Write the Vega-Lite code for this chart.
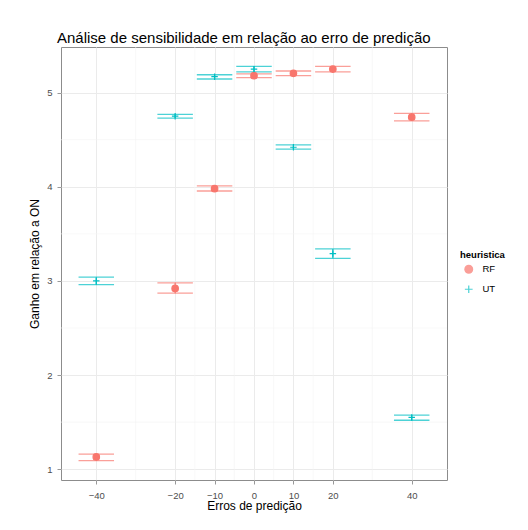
{
  "$schema": "https://vega.github.io/schema/vega-lite/v6.json",
  "autosize": "none",
  "width": 386,
  "height": 433,
  "padding": {"left": 61, "top": 47, "right": 81, "bottom": 50},
  "background": "white",
  "title": {
    "text": "Análise de sensibilidade em relação ao erro de predição",
    "anchor": "start",
    "frame": "group",
    "dx": -4,
    "offset": 1,
    "font": "Liberation Sans",
    "fontSize": 15,
    "fontWeight": "normal",
    "color": "#000000"
  },
  "datasets": {
    "dados": [
      {"erro": -40, "heuristica": "RF", "ganho": 1.13, "lo": 1.09, "hi": 1.16},
      {"erro": -20, "heuristica": "RF", "ganho": 2.92, "lo": 2.87, "hi": 2.98},
      {"erro": -10, "heuristica": "RF", "ganho": 3.98, "lo": 3.955, "hi": 4.01},
      {"erro": 0, "heuristica": "RF", "ganho": 5.18, "lo": 5.16, "hi": 5.2},
      {"erro": 10, "heuristica": "RF", "ganho": 5.205, "lo": 5.18, "hi": 5.23},
      {"erro": 20, "heuristica": "RF", "ganho": 5.25, "lo": 5.22, "hi": 5.28},
      {"erro": 40, "heuristica": "RF", "ganho": 4.74, "lo": 4.7, "hi": 4.78},
      {"erro": -40, "heuristica": "UT", "ganho": 3.0, "lo": 2.96, "hi": 3.04},
      {"erro": -20, "heuristica": "UT", "ganho": 4.75, "lo": 4.73, "hi": 4.77},
      {"erro": -10, "heuristica": "UT", "ganho": 5.17, "lo": 5.145, "hi": 5.19},
      {"erro": 0, "heuristica": "UT", "ganho": 5.25, "lo": 5.22, "hi": 5.28},
      {"erro": 10, "heuristica": "UT", "ganho": 4.42, "lo": 4.4, "hi": 4.445},
      {"erro": 20, "heuristica": "UT", "ganho": 3.29, "lo": 3.24, "hi": 3.34},
      {"erro": 40, "heuristica": "UT", "ganho": 1.55, "lo": 1.52, "hi": 1.575}
    ],
    "minorx": [{"erro": -30}, {"erro": -15}, {"erro": -5}, {"erro": 5}, {"erro": 15}, {"erro": 30}],
    "minory": [{"ganho": 1.5}, {"ganho": 2.5}, {"ganho": 3.5}, {"ganho": 4.5}]
  },
  "layer": [
    {
      "data": {"name": "minorx"},
      "mark": {"type": "rule", "color": "#f4f4f4", "strokeWidth": 0.6},
      "encoding": {
        "x": {"field": "erro", "type": "quantitative", "title": "Erros de predição",
              "scale": {"domain": [-48.95, 48.95], "nice": false, "zero": false}}
      }
    },
    {
      "data": {"name": "minory"},
      "mark": {"type": "rule", "color": "#f4f4f4", "strokeWidth": 0.6},
      "encoding": {
        "y": {"field": "ganho", "type": "quantitative", "title": "Ganho em relação a ON",
              "scale": {"domain": [0.885, 5.485], "nice": false, "zero": false}}
      }
    },
    {
      "data": {"name": "dados"},
      "mark": {"type": "rule", "strokeWidth": 1.2},
      "encoding": {
        "x": {"field": "erro", "type": "quantitative", "title": "Erros de predição"},
        "y": {"field": "lo", "type": "quantitative", "title": "Ganho em relação a ON"},
        "y2": {"field": "hi"},
        "color": {"field": "heuristica", "type": "nominal", "title": "heuristica",
                  "scale": {"domain": ["RF", "UT"], "range": ["#F8766D", "#00BFC4"]}}
      }
    },
    {
      "data": {"name": "dados"},
      "mark": {"type": "tick", "orient": "horizontal", "size": 35.5, "thickness": 1.3},
      "encoding": {
        "x": {"field": "erro", "type": "quantitative", "title": "Erros de predição"},
        "y": {"field": "lo", "type": "quantitative", "title": "Ganho em relação a ON"},
        "color": {"field": "heuristica", "type": "nominal", "title": "heuristica"}
      }
    },
    {
      "data": {"name": "dados"},
      "mark": {"type": "tick", "orient": "horizontal", "size": 35.5, "thickness": 1.3},
      "encoding": {
        "x": {"field": "erro", "type": "quantitative", "title": "Erros de predição"},
        "y": {"field": "hi", "type": "quantitative", "title": "Ganho em relação a ON"},
        "color": {"field": "heuristica", "type": "nominal", "title": "heuristica"}
      }
    },
    {
      "data": {"name": "dados"},
      "mark": {"type": "point", "filled": true, "strokeWidth": 1.2, "opacity": 1},
      "encoding": {
        "x": {"field": "erro", "type": "quantitative", "title": "Erros de predição",
              "axis": {"values": [-40, -20, -10, 0, 10, 20, 40], "grid": true, "gridColor": "#ebebeb", "gridWidth": 1,
                       "domain": false, "tickColor": "#999999", "tickSize": 4, "labelPadding": 6,
                       "labelColor": "#4d4d4d", "labelFontSize": 9.5, "labelFont": "Liberation Sans",
                       "titleFont": "Liberation Sans", "titleFontSize": 12, "titleFontWeight": "normal",
                       "titleColor": "#000000", "titlePadding": 1}},
        "y": {"field": "ganho", "type": "quantitative", "title": "Ganho em relação a ON",
              "axis": {"values": [1, 2, 3, 4, 5], "format": "d", "grid": true, "gridColor": "#ebebeb", "gridWidth": 1,
                       "domain": false, "tickColor": "#999999", "tickSize": 4, "labelPadding": 5,
                       "labelColor": "#4d4d4d", "labelFontSize": 9.5, "labelFont": "Liberation Sans",
                       "titleFont": "Liberation Sans", "titleFontSize": 12, "titleFontWeight": "normal",
                       "titleColor": "#000000", "titlePadding": 5}},
        "color": {"field": "heuristica", "type": "nominal", "title": "heuristica",
                  "legend": {"orient": "none", "legendX": 399, "legendY": 203,
                             "symbolOffset": 4, "labelOffset": 9,
                             "encode": {"symbols": {"update": {"stroke": {"scale": "color", "field": "value"}, "strokeWidth": {"value": 1.2}}}}}},
        "stroke": {"field": "heuristica", "type": "nominal", "legend": null,
                   "scale": {"domain": ["RF", "UT"], "range": ["#F8766D", "#00BFC4"]}},
        "shape": {"field": "heuristica", "type": "nominal", "title": "heuristica",
                  "scale": {"domain": ["RF", "UT"], "range": ["circle", "M-1,0H1M0,-1V1"]},
                  "legend": {"orient": "none", "legendX": 399, "legendY": 203, "symbolOffset": 4, "labelOffset": 9}},
        "size": {"value": 42}
      }
    }
  ],
  "config": {
    "view": {"stroke": "#8c8c8c", "strokeWidth": 1},
    "legend": {
      "titleFont": "Liberation Sans",
      "titleFontSize": 9.5,
      "titleFontWeight": "bold",
      "titleColor": "#000000",
      "labelFont": "Liberation Sans",
      "labelFontSize": 9.5,
      "labelColor": "#000000",
      "symbolSize": 60,
      "symbolStrokeWidth": 1.2,
      "rowPadding": 6,
      "titlePadding": 5
    }
  }
}
